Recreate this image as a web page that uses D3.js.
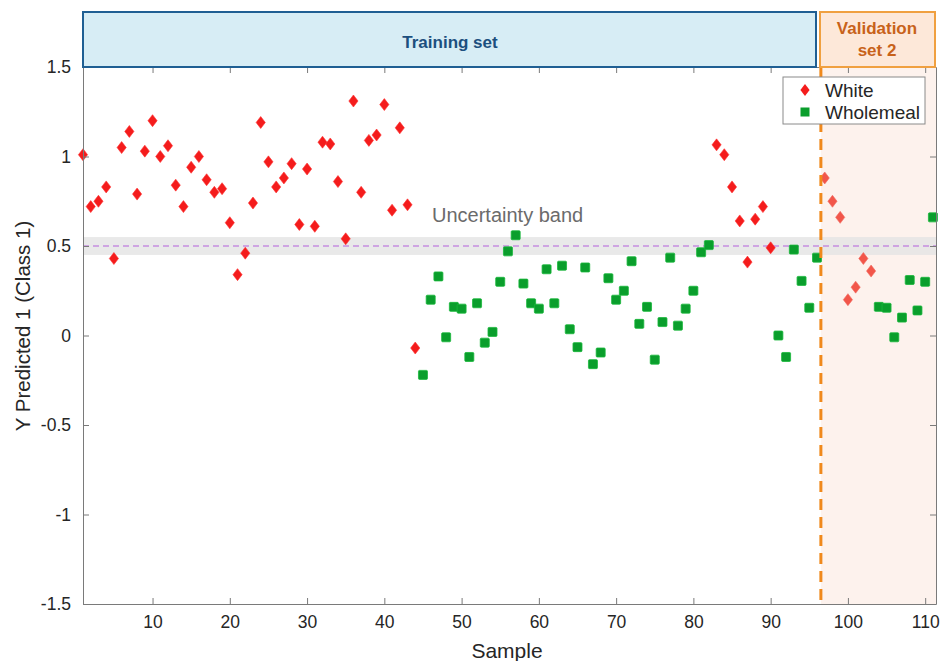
<!DOCTYPE html>
<html>
<head>
<meta charset="utf-8">
<script src="https://cdn.jsdelivr.net/npm/d3@7"></script>
<style>
  body { margin: 0; background: #fff; }
  text { font-family: "Liberation Sans", Arial, sans-serif; }
</style>
</head>
<body>
<script>
// Size of the page
var w = 942;
var h = 661;

// Sample numbers and predicted values
var whiteSamples = [1, 2, 3, 4, 5, 6, 7, 8, 9, 10, 11, 12, 13, 14, 15, 16, 17, 18, 19, 20,
                    21, 22, 23, 24, 25, 26, 27, 28, 29, 30, 31, 32, 33, 34, 35, 36, 37, 38, 39, 40,
                    41, 42, 43, 44, 83, 84, 85, 86, 87, 88, 89, 90, 97, 98, 99, 100, 101, 102, 103];
var whiteValues = [1.01, 0.72, 0.75, 0.83, 0.43, 1.05, 1.14, 0.79, 1.03, 1.20, 1.00, 1.06, 0.84, 0.72,
                   0.94, 1.00, 0.87, 0.80, 0.82, 0.63, 0.34, 0.46, 0.74, 1.19, 0.97, 0.83, 0.88, 0.96,
                   0.62, 0.93, 0.61, 1.08, 1.07, 0.86, 0.54, 1.31, 0.80, 1.09, 1.12, 1.29, 0.70, 1.16,
                   0.73, -0.07, 1.065, 1.01, 0.83, 0.64, 0.41, 0.65, 0.72, 0.49,
                   0.88, 0.75, 0.66, 0.20, 0.27, 0.43, 0.36];

var wholemealSamples = [45, 46, 47, 48, 49, 50, 51, 52, 53, 54, 55, 56, 57, 58, 59, 60, 61, 62, 63, 64,
                        65, 66, 67, 68, 69, 70, 71, 72, 73, 74, 75, 76, 77, 78, 79, 80, 81, 82,
                        91, 92, 93, 94, 95, 96, 104, 105, 106, 107, 108, 109, 110, 111];
var wholemealValues = [-0.22, 0.20, 0.33, -0.01, 0.16, 0.15, -0.12, 0.18, -0.04, 0.02, 0.30, 0.47,
                       0.56, 0.29, 0.18, 0.15, 0.37, 0.18, 0.39, 0.035, -0.065, 0.38, -0.16, -0.095,
                       0.32, 0.20, 0.25, 0.415, 0.065, 0.16, -0.135, 0.075, 0.435, 0.055, 0.15, 0.25,
                       0.465, 0.505,
                       0.00, -0.12, 0.48, 0.305, 0.155, 0.435,
                       0.16, 0.155, -0.01, 0.10, 0.31, 0.14, 0.30, 0.66];

var xTicks = [10, 20, 30, 40, 50, 60, 70, 80, 90, 100, 110];
var yTicks = [-1.5, -1, -0.5, 0, 0.5, 1, 1.5];

var threshold = 0.5;          // class boundary
var band = [0.45, 0.55];      // uncertainty band
var splitAt = 96.5;           // training / validation split

// Plot area
var padLeft = 83, padRight = 936, padTop = 67, padBottom = 604;

var xScale = d3.scaleLinear().domain([1, 111.4]).range([padLeft, padRight]);
var yScale = d3.scaleLinear().domain([-1.5, 1.5]).range([padBottom, padTop]);

var svg = d3.select("body")
            .append("svg")
            .attr("width", w)
            .attr("height", h);

// Validation shading
svg.append("rect")
  .attr("x", xScale(splitAt))
  .attr("y", padTop)
  .attr("width", padRight - xScale(splitAt))
  .attr("height", padBottom - padTop)
  .attr("fill", "#fdf2ed");

// Uncertainty band
svg.append("rect")
  .attr("x", padLeft)
  .attr("y", yScale(band[1]))
  .attr("width", padRight - padLeft)
  .attr("height", yScale(band[0]) - yScale(band[1]))
  .attr("fill", "#e4e4e4")
  .attr("opacity", 0.8);

svg.append("line")
  .attr("x1", padLeft).attr("x2", padRight)
  .attr("y1", yScale(threshold)).attr("y2", yScale(threshold))
  .attr("stroke", "#c58de0")
  .attr("stroke-width", 1.3)
  .attr("stroke-dasharray", "6,4");

svg.append("text")
  .attr("x", 432).attr("y", 222)
  .attr("font-size", "20px")
  .attr("fill", "#6b6b6b")
  .text("Uncertainty  band");

// Wholemeal squares
var sq = 9;
svg.append("g").selectAll("rect")
  .data(wholemealSamples)
  .enter()
  .append("rect")
  .attr("x", function(d) { return xScale(d) - sq / 2; })
  .attr("y", function(d, i) { return yScale(wholemealValues[i]) - sq / 2; })
  .attr("width", sq).attr("height", sq)
  .attr("rx", 1)
  .attr("fill", "#0a9e2c")
  .attr("stroke", "#18b83a")
  .attr("stroke-width", 0.8);

// White diamonds
function diamond(cx, cy) {
  var dx = 4.6, dy = 6;
  return "M" + cx + "," + (cy - dy) + "L" + (cx + dx) + "," + cy +
         "L" + cx + "," + (cy + dy) + "L" + (cx - dx) + "," + cy + "Z";
}
svg.append("g").selectAll("path")
  .data(whiteSamples)
  .enter()
  .append("path")
  .attr("d", function(d, i) { return diamond(xScale(d), yScale(whiteValues[i])); })
  .attr("fill", function(d) { return d > splitAt ? "#f2564a" : "#f41c1c"; })
  .attr("stroke", function(d) { return d > splitAt ? "#f06a60" : "#ff3030"; })
  .attr("stroke-width", 0.6);

// Split line
svg.append("line")
  .attr("x1", xScale(splitAt)).attr("x2", xScale(splitAt))
  .attr("y1", padTop).attr("y2", padBottom - 3)
  .attr("stroke", "#f0891c")
  .attr("stroke-width", 3)
  .attr("stroke-dasharray", "11,7");

// Axes (ticks pointing inward, box around)
var axisColor = "#7a7a7a";
var xAxis = d3.axisBottom(xScale).tickValues(xTicks).tickSizeInner(-6).tickSizeOuter(0).tickPadding(12);
var xAxisTop = d3.axisTop(xScale).tickValues(xTicks).tickSizeInner(-6).tickSizeOuter(0).tickFormat("");
var yAxis = d3.axisLeft(yScale).tickValues(yTicks).tickSizeInner(-6).tickSizeOuter(0).tickPadding(12)
              .tickFormat(function(d) { return String(d); });
var yAxisRight = d3.axisRight(yScale).tickValues(yTicks).tickSizeInner(-6).tickSizeOuter(0).tickFormat("");

function styleAxis(g) {
  g.select(".domain").attr("stroke", axisColor);
  g.selectAll(".tick line").attr("stroke", axisColor);
  g.selectAll(".tick text")
    .attr("fill", "#262626")
    .attr("font-size", "17.5px")
    .attr("font-family", "Liberation Sans, Arial, sans-serif");
}

svg.append("g").attr("transform", "translate(0," + padBottom + ")").call(xAxis).call(styleAxis);
svg.append("g").attr("transform", "translate(0," + padTop + ")").call(xAxisTop).call(styleAxis);
svg.append("g").attr("transform", "translate(" + padLeft + ",0)").call(yAxis).call(styleAxis);
svg.append("g").attr("transform", "translate(" + padRight + ",0)").call(yAxisRight).call(styleAxis);

// Axis titles
svg.append("text")
  .attr("x", 507).attr("y", 658)
  .attr("text-anchor", "middle")
  .attr("font-size", "21px")
  .attr("fill", "#262626")
  .text("Sample");

svg.append("text")
  .attr("transform", "translate(30,326) rotate(-90)")
  .attr("text-anchor", "middle")
  .attr("font-size", "20.5px")
  .attr("fill", "#262626")
  .text("Y Predicted 1 (Class 1)");

// Header boxes
svg.append("rect")
  .attr("x", padLeft).attr("y", 12)
  .attr("width", 816 - padLeft).attr("height", padTop - 12)
  .attr("fill", "#d7edf5")
  .attr("stroke", "#1f5f93")
  .attr("stroke-width", 2);

svg.append("text")
  .attr("x", 450).attr("y", 48)
  .attr("text-anchor", "middle")
  .attr("font-size", "17px")
  .attr("font-weight", "bold")
  .attr("fill", "#1c4f7e")
  .text("Training set");

svg.append("rect")
  .attr("x", 820).attr("y", 12)
  .attr("width", 115).attr("height", padTop - 12)
  .attr("fill", "#fde8d9")
  .attr("stroke", "#f0a040")
  .attr("stroke-width", 2);

svg.append("text")
  .attr("x", 877).attr("y", 34)
  .attr("text-anchor", "middle")
  .attr("font-size", "17px")
  .attr("font-weight", "bold")
  .attr("fill", "#c8621a")
  .text("Validation");

svg.append("text")
  .attr("x", 877).attr("y", 56)
  .attr("text-anchor", "middle")
  .attr("font-size", "17px")
  .attr("font-weight", "bold")
  .attr("fill", "#c8621a")
  .text("set 2");

// Legend
var legend = svg.append("g").attr("transform", "translate(783,77)");
legend.append("rect")
  .attr("width", 142).attr("height", 47)
  .attr("fill", "#fff")
  .attr("stroke", "#8a8a8a");
legend.append("path")
  .attr("d", diamond(22, 13))
  .attr("fill", "#f41c1c");
legend.append("rect")
  .attr("x", 22 - sq / 2).attr("y", 35 - sq / 2)
  .attr("width", sq).attr("height", sq)
  .attr("fill", "#0a9e2c");
legend.append("text").attr("x", 42).attr("y", 20).attr("font-size", "19px").attr("fill", "#262626").text("White");
legend.append("text").attr("x", 42).attr("y", 42).attr("font-size", "19px").attr("fill", "#262626").text("Wholemeal");
</script>
</body>
</html>
